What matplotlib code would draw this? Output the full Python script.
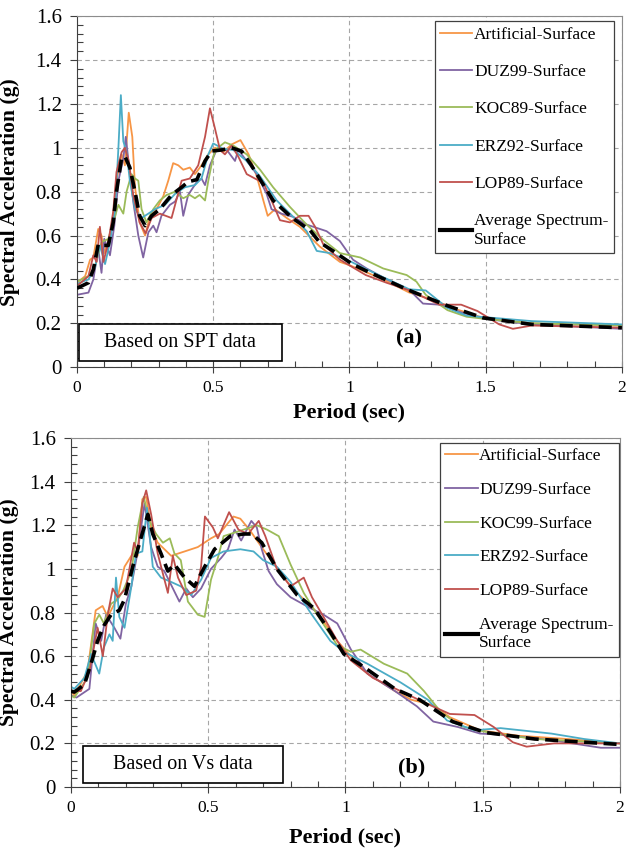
import matplotlib
matplotlib.use('Agg')
import matplotlib.pyplot as plt
from matplotlib.lines import Line2D
from matplotlib.patches import Rectangle
from matplotlib.ticker import MultipleLocator, FuncFormatter

plt.rcParams['font.family'] = ['Liberation Serif', 'DejaVu Serif']

# ---- (a) SPT based, surface spectra ----
spt_art_t = [0, 0.03, 0.048, 0.06, 0.078, 0.09, 0.10, 0.121, 0.133, 0.145, 0.164, 0.176, 0.19, 0.203, 0.213,
             0.23, 0.25, 0.268, 0.292, 0.317, 0.335, 0.353, 0.372, 0.39, 0.414, 0.433, 0.457, 0.482, 0.507,
             0.537, 0.567, 0.60, 0.63, 0.66, 0.684, 0.70, 0.727, 0.77, 0.818, 0.891, 0.965, 1.0, 1.124, 1.22,
             1.3, 1.39, 1.49, 1.67, 2.0]
spt_art_sa = [0.385, 0.415, 0.49, 0.50, 0.63, 0.60, 0.52, 0.60, 0.69, 0.85, 0.97, 0.92, 1.16, 1.05, 0.82,
              0.66, 0.60, 0.69, 0.72, 0.78, 0.85, 0.93, 0.92, 0.90, 0.91, 0.88, 0.92, 0.97, 1.0,
              0.98, 1.015, 1.035, 0.97, 0.87, 0.76, 0.69, 0.72, 0.68, 0.64, 0.55, 0.48, 0.465, 0.40, 0.34,
              0.31, 0.265, 0.225, 0.20, 0.19]

spt_duz_t = [0, 0.042, 0.06, 0.078, 0.09, 0.10, 0.121, 0.137, 0.152, 0.17, 0.179, 0.188, 0.207, 0.225, 0.243,
             0.262, 0.28, 0.292, 0.31, 0.341, 0.36, 0.378, 0.39, 0.408, 0.44, 0.457, 0.47, 0.488, 0.512, 0.55,
             0.58, 0.592, 0.623, 0.66, 0.696, 0.714, 0.75, 0.794, 0.843, 0.916, 0.965, 1.013, 1.063, 1.137,
             1.222, 1.27, 1.33, 1.41, 1.5, 1.67, 2.0]
spt_duz_sa = [0.33, 0.34, 0.40, 0.54, 0.43, 0.585, 0.51, 0.645, 0.85, 0.95, 1.05, 0.95, 0.75, 0.60, 0.50,
              0.615, 0.645, 0.615, 0.69, 0.74, 0.755, 0.80, 0.69, 0.785, 0.845, 0.86, 0.83, 0.92, 0.99, 0.99,
              0.94, 0.99, 0.94, 0.88, 0.79, 0.72, 0.70, 0.685, 0.65, 0.62, 0.575, 0.49, 0.45, 0.40,
              0.35, 0.29, 0.285, 0.25, 0.22, 0.195, 0.175]

spt_koc_t = [0, 0.042, 0.066, 0.09, 0.115, 0.133, 0.152, 0.17, 0.182, 0.2, 0.213, 0.225, 0.237, 0.255, 0.28,
             0.304, 0.329, 0.36, 0.39, 0.414, 0.433, 0.45, 0.47, 0.482, 0.5, 0.512, 0.543, 0.574, 0.623, 0.672,
             0.72, 0.782, 0.843, 0.904, 0.965, 1.04, 1.124, 1.21, 1.246, 1.28, 1.36, 1.43, 1.5, 1.67, 2.0]
spt_koc_sa = [0.39, 0.415, 0.46, 0.57, 0.585, 0.66, 0.74, 0.70, 0.80, 0.88, 0.86, 0.85, 0.72, 0.66, 0.72,
              0.76, 0.785, 0.80, 0.77, 0.785, 0.77, 0.785, 0.76, 0.85, 0.96, 0.995, 1.025, 1.01, 0.97, 0.90,
              0.82, 0.73, 0.65, 0.58, 0.52, 0.50, 0.45, 0.42, 0.39, 0.33, 0.26, 0.23, 0.22, 0.20, 0.19]

spt_erz_t = [0, 0.042, 0.066, 0.084, 0.103, 0.121, 0.14, 0.152, 0.161, 0.17, 0.182, 0.194, 0.213, 0.237,
             0.262, 0.286, 0.323, 0.36, 0.396, 0.433, 0.457, 0.482, 0.5, 0.537, 0.574, 0.623, 0.672, 0.733,
             0.794, 0.843, 0.88, 0.928, 0.99, 1.124, 1.22, 1.28, 1.36, 1.43, 1.67, 2.0]
spt_erz_sa = [0.38, 0.40, 0.455, 0.555, 0.47, 0.57, 0.72, 1.0, 1.24, 1.03, 0.98, 0.85, 0.72, 0.68,
              0.70, 0.72, 0.74, 0.79, 0.82, 0.83, 0.86, 0.97, 1.02, 0.995, 0.99, 0.94, 0.87, 0.76,
              0.685, 0.62, 0.53, 0.52, 0.49, 0.41, 0.355, 0.35, 0.27, 0.235, 0.21, 0.195]

spt_lop_t = [0, 0.042, 0.06, 0.072, 0.084, 0.097, 0.115, 0.133, 0.145, 0.164, 0.176, 0.19, 0.207, 0.23,
             0.252, 0.274, 0.304, 0.347, 0.384, 0.414, 0.445, 0.47, 0.488, 0.506, 0.525, 0.543, 0.568, 0.592,
             0.623, 0.653, 0.684, 0.714, 0.745, 0.782, 0.818, 0.85, 0.874, 0.904, 0.965, 1.06, 1.136, 1.22,
             1.33, 1.41, 1.47, 1.55, 1.6, 1.67, 2.0]
spt_lop_sa = [0.37, 0.415, 0.51, 0.48, 0.64, 0.48, 0.57, 0.71, 0.89, 0.98, 1.0, 0.94, 0.78, 0.66,
              0.61, 0.68, 0.70, 0.68, 0.85, 0.86, 0.92, 1.05, 1.18, 1.09, 0.99, 0.97, 1.01, 0.96,
              0.88, 0.86, 0.84, 0.76, 0.67, 0.66, 0.69, 0.69, 0.64, 0.56, 0.49, 0.42, 0.385, 0.35,
              0.285, 0.285, 0.256, 0.195, 0.175, 0.19, 0.18]

spt_avg_t = [0, 0.042, 0.06, 0.078, 0.097, 0.115, 0.133, 0.145, 0.164, 0.176, 0.194, 0.213, 0.23, 0.25,
             0.274, 0.304, 0.347, 0.384, 0.408, 0.44, 0.47, 0.494, 0.53, 0.567, 0.604, 0.635, 0.72, 0.79,
             0.855, 0.89, 0.94, 1.01, 1.06, 1.21, 1.36, 1.49, 1.67, 2.0]
spt_avg_sa = [0.36, 0.385, 0.445, 0.56, 0.555, 0.555, 0.66, 0.80, 0.955, 0.96, 0.91, 0.80, 0.69, 0.645,
              0.69, 0.72, 0.785, 0.82, 0.845, 0.855, 0.94, 0.985, 0.99, 1.0, 0.985, 0.93, 0.76, 0.68,
              0.625, 0.57, 0.53, 0.47, 0.44, 0.355, 0.28, 0.225, 0.195, 0.18]

# ---- (b) Vs based, surface spectra ----
vs_art_t = [0, 0.012, 0.06, 0.09, 0.115, 0.134, 0.17, 0.195, 0.225, 0.243, 0.26, 0.274, 0.292, 0.316, 0.365,
            0.414, 0.462, 0.51, 0.54, 0.572, 0.592, 0.617, 0.65, 0.70, 0.80, 0.897, 0.97, 1.04, 1.08, 1.18,
            1.24, 1.32, 1.38, 1.49, 1.63, 1.81, 2.0]
vs_art_sa = [0.44, 0.42, 0.53, 0.81, 0.83, 0.78, 0.87, 1.01, 1.07, 1.06, 1.32, 1.33, 1.19, 1.12, 1.06,
             1.08, 1.10, 1.14, 1.16, 1.21, 1.24, 1.23, 1.18, 1.09, 0.92, 0.80, 0.67, 0.57, 0.52, 0.44,
             0.40, 0.375, 0.32, 0.26, 0.235, 0.22, 0.20]

vs_duz_t = [0, 0.02, 0.067, 0.09, 0.11, 0.128, 0.158, 0.18, 0.2, 0.22, 0.243, 0.268, 0.292, 0.316, 0.34,
            0.395, 0.42, 0.444, 0.474, 0.51, 0.547, 0.572, 0.596, 0.62, 0.657, 0.677, 0.695, 0.72, 0.75,
            0.80, 0.872, 0.92, 0.97, 1.02, 1.08, 1.18, 1.26, 1.32, 1.41, 1.49, 1.565, 1.75, 1.93, 2.0]
vs_duz_sa = [0.42, 0.41, 0.45, 0.75, 0.67, 0.79, 0.73, 0.68, 0.84, 0.92, 1.08, 1.30, 1.10, 1.01, 0.99,
             0.85, 0.91, 0.87, 0.91, 1.0, 1.05, 1.09, 1.18, 1.13, 1.22, 1.19, 1.09, 0.99, 0.93,
             0.87, 0.82, 0.79, 0.75, 0.63, 0.52, 0.44, 0.37, 0.30, 0.275, 0.245, 0.24, 0.215, 0.18, 0.18]

vs_koc_t = [0, 0.012, 0.06, 0.085, 0.103, 0.12, 0.146, 0.17, 0.19, 0.22, 0.243, 0.265, 0.286, 0.31, 0.335,
            0.36, 0.377, 0.40, 0.426, 0.462, 0.487, 0.51, 0.535, 0.556, 0.605, 0.677, 0.714, 0.757, 0.80,
            0.848, 0.897, 0.97, 1.02, 1.055, 1.14, 1.225, 1.286, 1.35, 1.42, 1.52, 1.69, 2.0]
vs_koc_sa = [0.42, 0.41, 0.50, 0.75, 0.79, 0.75, 0.84, 0.86, 0.90, 0.99, 1.19, 1.33, 1.22, 1.16, 1.12,
             1.14, 1.07, 1.04, 0.85, 0.79, 0.78, 0.95, 1.05, 1.15, 1.17, 1.20, 1.18, 1.15, 1.02,
             0.89, 0.79, 0.65, 0.62, 0.63, 0.565, 0.52, 0.44, 0.34, 0.28, 0.25, 0.22, 0.20]

vs_erz_t = [0, 0.012, 0.049, 0.073, 0.103, 0.12, 0.14, 0.152, 0.164, 0.176, 0.195, 0.22, 0.237, 0.26, 0.277,
            0.298, 0.328, 0.365, 0.40, 0.438, 0.474, 0.51, 0.556, 0.617, 0.665, 0.70, 0.75, 0.80, 0.872,
            0.945, 0.994, 1.08, 1.2, 1.3, 1.37, 1.47, 1.565, 1.75, 1.87, 2.0]
vs_erz_sa = [0.46, 0.45, 0.50, 0.61, 0.52, 0.64, 0.70, 0.67, 0.96, 0.78, 0.73, 0.92, 1.07, 1.08, 1.28,
             1.01, 0.96, 0.94, 0.92, 0.88, 0.95, 1.05, 1.08, 1.09, 1.08, 1.04, 1.01, 0.94, 0.80,
             0.67, 0.62, 0.565, 0.48, 0.40, 0.305, 0.26, 0.27, 0.245, 0.22, 0.20]

vs_lop_t = [0, 0.036, 0.067, 0.097, 0.116, 0.134, 0.152, 0.17, 0.2, 0.23, 0.243, 0.26, 0.274, 0.292, 0.316,
            0.353, 0.371, 0.39, 0.42, 0.456, 0.474, 0.488, 0.517, 0.535, 0.576, 0.61, 0.645, 0.684, 0.708,
            0.75, 0.80, 0.848, 0.878, 0.92, 0.97, 1.02, 1.10, 1.2, 1.3, 1.38, 1.47, 1.54, 1.61, 1.66, 1.76, 2.0]
vs_lop_sa = [0.44, 0.44, 0.53, 0.73, 0.60, 0.79, 0.91, 0.87, 0.91, 1.12, 1.08, 1.30, 1.36, 1.25, 1.07,
             0.89, 1.06, 0.96, 0.88, 0.90, 1.01, 1.24, 1.19, 1.14, 1.26, 1.18, 1.16, 1.22, 1.15,
             1.0, 0.92, 0.96, 0.87, 0.78, 0.67, 0.58, 0.50, 0.44, 0.38, 0.335, 0.33, 0.275, 0.205, 0.185, 0.20, 0.20]

vs_avg_t = [0, 0.012, 0.049, 0.079, 0.097, 0.12, 0.146, 0.176, 0.195, 0.225, 0.25, 0.28, 0.298, 0.328, 0.353,
            0.377, 0.414, 0.45, 0.487, 0.523, 0.58, 0.629, 0.66, 0.695, 0.75, 0.824, 0.885, 0.945, 0.994,
            1.067, 1.18, 1.27, 1.39, 1.51, 1.69, 2.0]
vs_avg_sa = [0.44, 0.435, 0.47, 0.59, 0.67, 0.74, 0.79, 0.81, 0.86, 1.01, 1.12, 1.25, 1.16, 1.07, 0.99,
             1.02, 0.96, 0.92, 1.01, 1.09, 1.15, 1.16, 1.16, 1.12, 1.0, 0.88, 0.82, 0.71, 0.61,
             0.55, 0.45, 0.40, 0.30, 0.25, 0.22, 0.195]

colors = ['#F79646', '#8064A2', '#9BBB59', '#4BACC6', '#C0504D']
labels_a = ['Artificial-Surface', 'DUZ99-Surface', 'KOC89-Surface', 'ERZ92-Surface', 'LOP89-Surface']
labels_b = ['Artificial-Surface', 'DUZ99-Surface', 'KOC99-Surface', 'ERZ92-Surface', 'LOP89-Surface']
avg_label = 'Average Spectrum-\nSurface'

panels = [
    dict(rect=[0.1228, 0.568, 0.869, 0.413], labels=labels_a,
         series=[(spt_art_t, spt_art_sa), (spt_duz_t, spt_duz_sa), (spt_koc_t, spt_koc_sa),
                 (spt_erz_t, spt_erz_sa), (spt_lop_t, spt_lop_sa)],
         avg=(spt_avg_t, spt_avg_sa), note='Based on SPT data', tag='(a)',
         box=(0.003, 0.017, 0.373, 0.105), tagpos=(1.22, 0.13), leg=(0.985, 0.985), lsp=1.22,
         xl=-0.10, yl=-0.105),
    dict(rect=[0.1132, 0.0741, 0.8756, 0.4106], labels=labels_b,
         series=[(vs_art_t, vs_art_sa), (vs_duz_t, vs_duz_sa), (vs_koc_t, vs_koc_sa),
                 (vs_erz_t, vs_erz_sa), (vs_lop_t, vs_lop_sa)],
         avg=(vs_avg_t, vs_avg_sa), note='Based on Vs data', tag='(b)',
         box=(0.021, 0.012, 0.365, 0.105), tagpos=(1.24, 0.09), leg=(0.998, 0.987), lsp=1.02,
         xl=-0.115, yl=-0.095),
]

fig = plt.figure(figsize=(6.27, 8.5), dpi=100)
fmt = FuncFormatter(lambda v, p: '%g' % round(v, 2))

for pn in panels:
    ax = fig.add_axes(pn['rect'])
    handles = []
    for (t, sa), c, lab in zip(pn['series'], colors, pn['labels']):
        ax.plot(t, sa, color=c, lw=1.3, solid_joinstyle='round')
        handles.append(Line2D([], [], color=c, lw=1.3, label=lab))
    at, asa = pn['avg']
    ax.plot(at, asa, color='black', lw=2.6, dashes=(3.6, 1.8), dash_capstyle='butt', zorder=5)
    handles.append(Line2D([], [], color='black', lw=3.0, label=avg_label))

    ax.set_xlim(0, 2)
    ax.set_ylim(0, 1.6)
    ax.xaxis.set_major_locator(MultipleLocator(0.5))
    ax.xaxis.set_minor_locator(MultipleLocator(0.1))
    ax.yaxis.set_major_locator(MultipleLocator(0.2))
    ax.yaxis.set_minor_locator(MultipleLocator(0.04))
    ax.xaxis.set_major_formatter(fmt)
    ax.yaxis.set_major_formatter(fmt)
    ax.grid(True, which='major', color='#a6a6a6', lw=0.8, dashes=(4, 3))
    ax.set_axisbelow(True)
    ax.tick_params(which='major', direction='out', length=5, width=0.8, color='#404040', pad=6)
    ax.tick_params(which='minor', direction='in', length=4, width=0.8, color='#404040')
    ax.tick_params(axis='x', which='major', direction='inout', length=8, labelsize=12.5, pad=5)
    ax.tick_params(axis='y', which='major', labelsize=15)
    for s in ['left', 'bottom']:
        ax.spines[s].set_color('#404040')
    for s in ['top', 'right']:
        ax.spines[s].set_color('#8c8c8c')

    ax.set_xlabel('Period (sec)', fontsize=16, fontweight='bold')
    ax.set_ylabel('Spectral Acceleration (g)', fontsize=15.5, fontweight='bold')
    ax.xaxis.set_label_coords(0.5, pn['xl'])
    ax.yaxis.set_label_coords(pn['yl'], 0.5)

    bx, by, bw, bh = pn['box']
    ax.add_patch(Rectangle((bx, by), bw, bh, transform=ax.transAxes, facecolor='white',
                           edgecolor='black', lw=1.2, zorder=6))
    ax.text(bx + bw / 2, by + bh / 2, pn['note'], transform=ax.transAxes, ha='center', va='center',
            fontsize=14.5, zorder=7)
    ax.text(pn['tagpos'][0], pn['tagpos'][1], pn['tag'], ha='center', va='center', fontsize=16,
            fontweight='bold', zorder=7)

    leg = ax.legend(handles=handles, loc='upper right', bbox_to_anchor=pn['leg'], fontsize=12.5,
                    handlelength=1.85, handletextpad=0.1, borderpad=0.3, borderaxespad=0,
                    labelspacing=pn['lsp'], fancybox=False, framealpha=1, edgecolor='#404040')
    leg.get_frame().set_linewidth(0.9)

fig.savefig('out.png', dpi=100)
